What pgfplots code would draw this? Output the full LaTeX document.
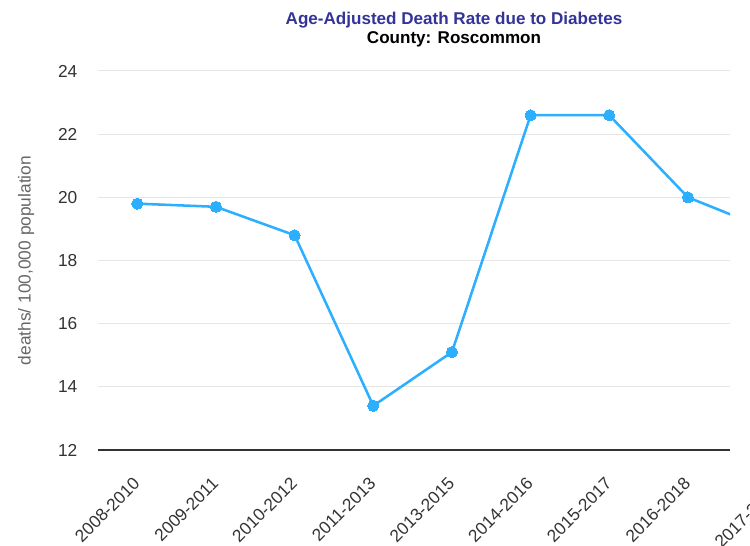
\documentclass[border=0pt]{standalone}
\usepackage{pgfplots}
\pgfplotsset{compat=1.18}
\usepackage{fontspec}
\setmainfont{Liberation Sans}
\definecolor{linec}{HTML}{2CAFFE}
\definecolor{gridc}{HTML}{E6E6E6}
\definecolor{titlec}{HTML}{333399}
\definecolor{tickc}{HTML}{333333}
\definecolor{labc}{HTML}{666666}
\begin{document}
\begin{tikzpicture}[x=1pt,y=1pt]
\begin{axis}[
    at={(73.5pt,72pt)}, anchor=south west,
    scale only axis,
    width=474pt, height=284.25pt,
    xmin=-0.5, xmax=7.535,
    ymin=12, ymax=24,
    ytick={12,14,...,24},
    xtick={0,...,7},
    xticklabels={2008-2010,2009-2011,2010-2012,2011-2013,2013-2015,2014-2016,2015-2017,2016-2018},
    axis x line*=bottom, axis y line*=left,
    x axis line style={tickc, line width=0.9pt, -},
    y axis line style={draw=none},
    major tick length=0pt,
    ymajorgrids, grid style={gridc, line width=0.75pt},
    /pgf/number format/assume math mode=true,
    ticklabel style={font=\fontsize{13}{15}\selectfont, text=tickc},
    yticklabel style={xshift=-12pt},
    xticklabel style={rotate=45, anchor=north east, yshift=-7.7pt, xshift=-13.1pt},
    ylabel={deaths/ 100,000 population},
    ylabel style={font=\fontsize{13}{15}\selectfont, text=labc, yshift=11pt},
    clip=true,
]
\addplot[linec, line width=1.9pt, mark=*, mark size=4.2pt, mark options={fill=linec, draw=linec, line width=0pt}] coordinates {
    (0, 19.8) (1, 19.7) (2, 18.8) (3, 13.4) (4, 15.1)
    (5, 22.6) (6, 22.6) (7, 20.0) (8, 19.0)
};
\end{axis}
\node[rotate=45, anchor=north east, font=\fontsize{13}{15}\selectfont, text=tickc] at (579pt,53.25pt) {2017-2019};
\node[font=\bfseries\fontsize{12.8}{15}\selectfont, text=titlec] at (340.5pt,394.5pt) {Age-Adjusted Death Rate due to Diabetes};
\node[font=\bfseries\fontsize{12.8}{15}\selectfont, text=black] at (340.5pt,380.25pt) {County: Roscommon};
\pgfresetboundingbox
\path[use as bounding box] (0,0) rectangle (562.5pt,409.5pt);
\end{tikzpicture}
\end{document}
